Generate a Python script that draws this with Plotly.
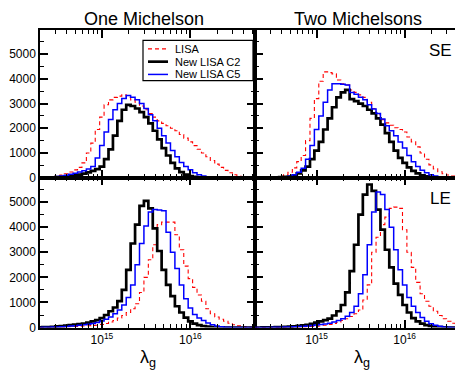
import plotly.graph_objects as go

# bin centres, log10(lambda_g)
log_lambda = [14.30, 14.35, 14.40, 14.45, 14.50, 14.55, 14.60, 14.65, 14.70, 14.75,
              14.80, 14.85, 14.90, 14.95, 15.00, 15.05, 15.10, 15.15, 15.20, 15.25,
              15.30, 15.35, 15.40, 15.45, 15.50, 15.55, 15.60, 15.65, 15.70, 15.75,
              15.80, 15.85, 15.90, 15.95, 16.00, 16.05, 16.10, 16.15, 16.20, 16.25,
              16.30, 16.35, 16.40, 16.45, 16.50, 16.55, 16.60, 16.65, 16.70]

# SE, one Michelson
se1_lisa = [10, 20, 30, 50, 80, 110, 160, 230, 320, 420,
            600, 1000, 1400, 1950, 2450, 2950, 3150, 3250, 3300, 3350,
            3250, 3150, 3050, 2900, 2750, 2600, 2450, 2300, 2200, 2100,
            2000, 1900, 1750, 1600, 1450, 1300, 1150, 1000, 850, 700,
            550, 420, 300, 200, 120, 60, 25, 10, 5]
se1_c2 = [5, 8, 12, 18, 25, 35, 50, 70, 100, 130,
          170, 220, 280, 350, 450, 750, 1150, 1700, 2300, 2750,
          2950, 2900, 2800, 2650, 2450, 2200, 1900, 1550, 1200, 900,
          600, 380, 230, 130, 70, 35, 15, 6, 2, 0,
          0, 0, 0, 0, 0, 0, 0, 0, 0]
se1_c5 = [5, 10, 20, 30, 50, 70, 100, 140, 180, 230,
          280, 350, 450, 800, 1300, 1850, 2350, 2750, 3000, 3200,
          3330, 3250, 3150, 3000, 2800, 2550, 2300, 2000, 1700, 1400,
          1100, 850, 620, 450, 320, 200, 120, 70, 40, 20,
          10, 5, 2, 0, 0, 0, 0, 0, 0]

# SE, two Michelsons
se2_lisa = [5, 8, 12, 18, 25, 40, 60, 120, 220, 400,
            650, 900, 1500, 2400, 3200, 3900, 4280, 4250, 4200, 3950,
            3800, 3750, 3550, 3450, 3350, 3250, 3050, 2800, 2550, 2350,
            2220, 2120, 2020, 1950, 1850, 1650, 1450, 1250, 1000, 750,
            520, 360, 240, 160, 110, 70, 45, 30, 20]
se2_c2 = [3, 5, 7, 10, 14, 20, 28, 38, 50, 80,
          180, 300, 450, 750, 1100, 1450, 1950, 2400, 2850, 3250,
          3450, 3550, 3180, 3100, 3000, 2900, 2750, 2600, 2400, 2150,
          1800, 1450, 1100, 800, 600, 420, 280, 180, 100, 55,
          25, 10, 5, 0, 0, 0, 0, 0, 0]
se2_c5 = [3, 5, 8, 12, 18, 25, 35, 45, 60, 120,
          220, 380, 750, 1300, 1950, 2500, 3050, 3550, 3800, 3800,
          3780, 3750, 3450, 3380, 3250, 3150, 2950, 2780, 2600, 2380,
          2100, 1900, 1700, 1450, 1200, 900, 650, 450, 300, 200,
          120, 70, 40, 20, 10, 5, 2, 0, 0]

# LE, one Michelson
le1_lisa = [5, 8, 10, 15, 20, 25, 30, 35, 40, 50,
            60, 70, 80, 90, 120, 160, 220, 280, 380, 480,
            600, 750, 950, 1400, 2000, 2700, 3300, 4100, 4200, 4200,
            4200, 3700, 3100, 2450, 1950, 1600, 1300, 1050, 750, 550,
            420, 330, 250, 170, 110, 70, 40, 20, 10]
le1_c2 = [10, 15, 20, 30, 45, 60, 80, 100, 120, 140,
          160, 200, 250, 300, 380, 500, 650, 800, 1050, 1500,
          2300, 3350, 4100, 4850, 5050, 4750, 3950, 3050, 2300, 1700,
          1250, 850, 600, 400, 250, 160, 100, 60, 35, 20,
          10, 5, 0, 0, 0, 0, 0, 0, 0]
le1_c5 = [5, 8, 12, 18, 25, 35, 45, 60, 75, 90,
          110, 130, 160, 200, 260, 330, 420, 550, 700, 900,
          1200, 1700, 2500, 3350, 4050, 4600, 4700, 4680, 4650, 3800,
          3000, 2350, 1700, 1150, 780, 520, 380, 280, 180, 110,
          60, 30, 15, 8, 0, 0, 0, 0, 0]

# LE, two Michelsons
le2_lisa = [1, 2, 3, 4, 5, 7, 9, 12, 15, 18,
            22, 26, 32, 40, 50, 65, 90, 120, 160, 210,
            280, 350, 440, 550, 700, 1100, 1700, 3000, 3600, 4100,
            4400, 4750, 4800, 4750, 3900, 3000, 2400, 1800, 1350, 1050,
            850, 650, 480, 350, 250, 170, 110, 70, 40]
le2_c2 = [2, 3, 5, 7, 10, 15, 20, 28, 38, 50,
          65, 85, 110, 150, 200, 250, 300, 360, 480, 650,
          900, 1400, 2250, 3300, 4500, 5300, 5700, 5450, 4700, 3900,
          3100, 2400, 1750, 1300, 900, 600, 380, 250, 160, 100,
          55, 30, 15, 8, 0, 0, 0, 0, 0]
le2_c5 = [2, 3, 4, 6, 8, 10, 14, 18, 24, 30,
          40, 50, 65, 80, 100, 120, 140, 170, 220, 280,
          350, 450, 600, 850, 1350, 2100, 3300, 4600, 5400, 5300,
          4700, 4000, 3100, 2300, 1700, 1200, 850, 600, 400, 250,
          150, 90, 50, 25, 12, 5, 0, 0, 0]

series_names = ['LISA', 'New LISA C2', 'New LISA C5']
col_titles = ['One Michelson', 'Two Michelsons']
row_labels = ['SE', 'LE']

lam = [10 ** v for v in log_lambda]
W, H = 463, 372
FONT = 'Liberation Sans, Arial, sans-serif'

styles = [dict(color='#ff0000', width=1.1, dash='4px,3px'),
          dict(color='black', width=2.7),
          dict(color='#0000ff', width=1.5)]

panels = [('x', 'y', [se1_lisa, se1_c2, se1_c5]),
          ('x2', 'y2', [se2_lisa, se2_c2, se2_c5]),
          ('x3', 'y3', [le1_lisa, le1_c2, le1_c5]),
          ('x4', 'y4', [le2_lisa, le2_c2, le2_c5])]

fig = go.Figure()
for k, (xa, ya, data) in enumerate(panels):
    for name, vals, st in zip(series_names, data, styles):
        fig.add_trace(go.Scatter(x=lam, y=vals, mode='lines', name=name,
                                 line=dict(shape='hvh', **st),
                                 xaxis=xa, yaxis=ya, showlegend=False))

minor_vals = [m * 10 ** e for e in (14, 15, 16) for m in range(2, 10)]
xdom = [[32 / W, 247 / W], [247 / W, 461 / W]]
ydom = [[(H - 173) / H, (H - 22.5) / H], [(H - 325.7) / H, (H - 173) / H]]

common = dict(showline=True, linecolor='black', linewidth=1.5, mirror='allticks',
              ticks='inside', tickcolor='black', tickwidth=1.5, showgrid=False,
              zeroline=False, tickfont=dict(family=FONT, size=12, color='black'))

layout = dict(width=W, height=H, margin=dict(l=0, r=0, t=0, b=0),
              paper_bgcolor='white', plot_bgcolor='white', showlegend=False,
              font=dict(family=FONT, color='black'))

for i in range(4):
    r, c = divmod(i, 2)
    sx = '' if i == 0 else str(i + 1)
    xa = dict(common, type='log', domain=xdom[c], anchor='y' + sx,
              range=[14.301, 16.73], tickmode='array', tickvals=[1e15, 1e16],
              ticktext=['10<sup>15</sup>', '10<sup>16</sup>'], ticklen=8,
              showticklabels=(r == 1),
              minor=dict(tickmode='array', tickvals=minor_vals, ticks='inside',
                         ticklen=4, tickcolor='black', tickwidth=1.2))
    ya = dict(common, domain=ydom[r], anchor='x' + sx, range=[0, 5970],
              dtick=1000, ticklen=8, showticklabels=(c == 0),
              minor=dict(dtick=500, ticks='inside', ticklen=4,
                         tickcolor='black', tickwidth=1.2))
    layout['xaxis' + sx] = xa
    layout['yaxis' + sx] = ya

fig.update_layout(**layout)

for c, t in enumerate(col_titles):
    fig.add_annotation(text=t, x=(sum(xdom[c]) / 2) - 4 / W, y=1 - 11 / H,
                       xref='paper', yref='paper', showarrow=False, font=dict(size=18),
                       xanchor='center', yanchor='middle')
    # x axis title under each bottom panel
    fig.add_annotation(text='λ<sub>g</sub>', x=sum(xdom[c]) / 2, y=(H - 357) / H,
                       xref='paper', yref='paper', showarrow=False, font=dict(size=18),
                       xanchor='center', yanchor='middle')
for r, t in enumerate(row_labels):
    fig.add_annotation(text=t, x=432 / W, y=ydom[r][1] - 21 / H, xref='paper', yref='paper',
                       showarrow=False, font=dict(size=17), xanchor='center', yanchor='middle')

# legend box drawn by hand, inside the top-left panel
fig.add_shape(type='rect', xref='paper', yref='paper', x0=135 / W, x1=245 / W,
              y0=(H - 74) / H, y1=(H - 33) / H, line=dict(color='black', width=1.2),
              fillcolor='white', layer='above')
for j, (name, st) in enumerate(zip(series_names, styles)):
    yy = (H - (41.7 + 13 * j)) / H
    fig.add_shape(type='line', xref='paper', yref='paper', x0=140 / W, x1=160 / W,
                  y0=yy, y1=yy, line=dict(color=st['color'], width=st['width'],
                                          dash=st.get('dash', 'solid')), layer='above')
    fig.add_annotation(text=name, x=166 / W, y=yy, xref='paper', yref='paper',
                       showarrow=False, font=dict(size=11), xanchor='left',
                       yanchor='middle', borderpad=0)

fig.write_html("out.html")
